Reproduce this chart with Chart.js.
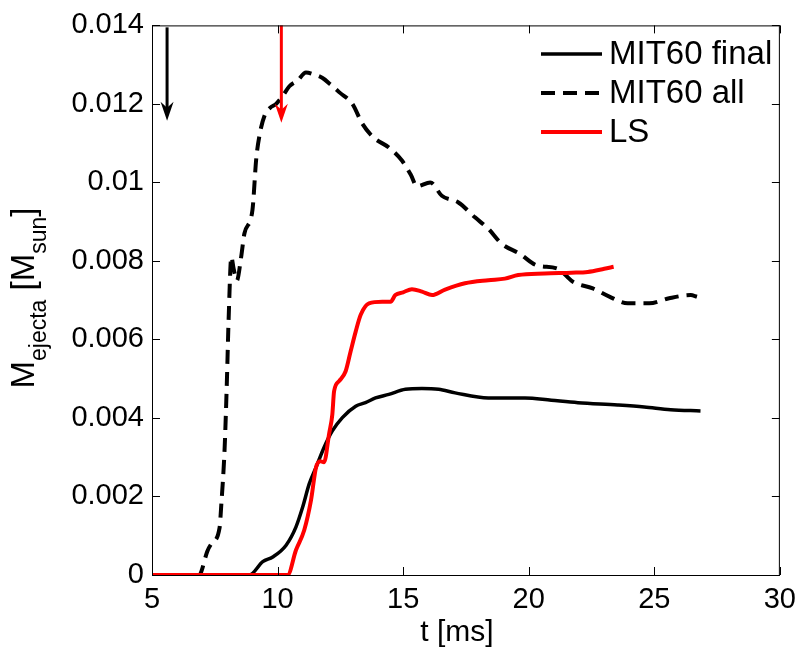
<!DOCTYPE html>
<html>
<head>
<meta charset="utf-8">
<script src="https://cdn.jsdelivr.net/npm/chart.js@4.4.0/dist/chart.umd.min.js"></script>
<style>
  body { margin: 0; background: #fff; }
  canvas { display: block; }
</style>
</head>
<body>
<canvas id="c" width="804" height="650"></canvas>
<script>
// MIT60 all (streckad)
const tAll = [5, 6.9, 6.97, 7.2, 7.37, 7.69, 7.76, 7.89, 7.98, 8.05, 8.16, 8.25, 8.38, 8.55, 8.68, 9.0, 9.15, 9.28, 9.48, 9.7, 9.94, 10.2, 10.47, 10.8, 11.13, 11.45, 11.79, 12.1, 12.45, 12.98, 13.37, 13.83, 14.43, 14.96, 15.3, 15.55, 16.08, 16.54, 17.2, 17.86, 18.39, 18.92, 19.65, 20.31, 21.16, 21.76, 22.55, 23.21, 23.94, 24.8, 25.59, 26.45, 26.7];
const mAll = [0, 0, 0.0001, 0.0006, 0.0008, 0.0012, 0.0018, 0.0032, 0.0049, 0.0065, 0.0081, 0.0078, 0.0075, 0.0081, 0.0087, 0.0093, 0.0106, 0.0112, 0.0117, 0.0119, 0.0120, 0.0122, 0.01245, 0.0126, 0.0128, 0.01275, 0.01266, 0.0125, 0.0123, 0.0120, 0.0115, 0.01114, 0.01089, 0.01055, 0.0102, 0.0099, 0.0100, 0.00966, 0.00949, 0.00911, 0.00882, 0.00844, 0.00818, 0.00789, 0.0078, 0.00747, 0.0073, 0.00709, 0.00692, 0.00692, 0.00705, 0.00713, 0.00709];

// MIT60 final
const tFinal = [5, 8.88, 9.41, 9.81, 10.34, 10.73, 11.0, 11.26, 11.53, 11.85, 12.18, 12.58, 13.11, 13.5, 13.9, 14.43, 15.09, 15.75, 16.41, 17.07, 18.39, 19.85, 20.9, 21.96, 23.54, 24.6, 25.65, 26.84];
const mFinal = [0, 0, 0.00034, 0.00046, 0.00076, 0.00122, 0.00173, 0.00232, 0.00274, 0.00325, 0.00367, 0.00401, 0.0043, 0.00439, 0.00451, 0.0046, 0.00473, 0.00475, 0.00473, 0.00464, 0.00451, 0.00451, 0.00445, 0.00439, 0.00433, 0.00428, 0.00421, 0.00418];

// LS
const tLS = [5, 10.4, 10.73, 11.06, 11.33, 11.53, 11.7, 11.85, 12.05, 12.18, 12.25, 12.45, 12.71, 12.91, 13.11, 13.31, 13.64, 14.17, 14.5, 14.69, 15.0, 15.35, 15.75, 16.15, 16.67, 17.46, 18.39, 19.05, 19.58, 20.64, 21.7, 22.35, 23.01, 23.38];
const mLS = [0, 0, 0.00063, 0.00114, 0.0019, 0.00274, 0.0029, 0.00287, 0.00359, 0.00409, 0.00468, 0.00494, 0.00519, 0.0057, 0.0062, 0.00663, 0.00692, 0.00696, 0.00696, 0.00713, 0.0072, 0.00728, 0.00722, 0.00713, 0.00727, 0.00743, 0.00751, 0.00755, 0.00764, 0.00768, 0.0077, 0.00772, 0.0078, 0.00785];

// Pilar (tid, start, spets)
const arrowT = [5.6, 10.15];
const arrowTop = [0.01395, 0.0140];
const arrowTip = [0.01157, 0.01152];
const arrowColors = ['#000000', '#ff0000'];

const xTicks = [5, 10, 15, 20, 25, 30];
const yTickLabels = ['0', '0.002', '0.004', '0.006', '0.008', '0.01', '0.012', '0.014'];

const FONT = '"Liberation Sans", Arial, Helvetica, sans-serif';

function toPoints(xs, ys) {
    return xs.map((x, i) => ({ x: x, y: ys[i] }));
}

// Ram och inåtvända tickmarkeringar (MATLAB-stil)
const framePlugin = {
    id: 'frame',
    afterDraw(chart) {
        const { ctx, chartArea: a, scales } = chart;
        ctx.save();
        ctx.strokeStyle = '#000';
        ctx.lineWidth = 1;
        ctx.strokeRect(a.left + 0.5, a.top + 0.5, a.right - a.left - 1, a.bottom - a.top);
        const len = 8;
        ctx.beginPath();
        xTicks.forEach(v => {
            const px = Math.round(scales.x.getPixelForValue(v)) + 0.5;
            ctx.moveTo(px, a.bottom); ctx.lineTo(px, a.bottom - len);
            ctx.moveTo(px, a.top); ctx.lineTo(px, a.top + len);
        });
        scales.y.ticks.forEach(t => {
            const py = Math.round(scales.y.getPixelForValue(t.value)) + 0.5;
            ctx.moveTo(a.left, py); ctx.lineTo(a.left + len, py);
            ctx.moveTo(a.right, py); ctx.lineTo(a.right - len, py);
        });
        ctx.stroke();
        ctx.restore();
    }
};

// Pilar
const arrowPlugin = {
    id: 'arrows',
    afterDatasetsDraw(chart) {
        const { ctx, scales } = chart;
        ctx.save();
        arrowT.forEach((t, i) => {
            const x = scales.x.getPixelForValue(t);
            const y0 = scales.y.getPixelForValue(arrowTop[i]);
            const y1 = scales.y.getPixelForValue(arrowTip[i]);
            ctx.strokeStyle = arrowColors[i];
            ctx.fillStyle = arrowColors[i];
            ctx.lineWidth = 3;
            ctx.beginPath();
            ctx.moveTo(x, y0);
            ctx.lineTo(x, y1 - 8);
            ctx.stroke();
            ctx.beginPath();
            ctx.moveTo(x, y1);
            ctx.lineTo(x - 6.5, y1 - 19);
            ctx.lineTo(x, y1 - 13);
            ctx.lineTo(x + 6.5, y1 - 19);
            ctx.closePath();
            ctx.fill();
        });
        ctx.restore();
    }
};

// Legend
const legendPlugin = {
    id: 'customLegend',
    afterDraw(chart) {
        const { ctx } = chart;
        ctx.save();
        ctx.font = '33px ' + FONT;
        ctx.textBaseline = 'middle';
        ctx.fillStyle = '#000';
        chart.data.datasets.forEach((ds, i) => {
            const y = 54 + i * 39;
            ctx.strokeStyle = ds.borderColor;
            ctx.lineWidth = ds.borderWidth;
            ctx.setLineDash(ds.borderDash || []);
            ctx.beginPath();
            ctx.moveTo(541, y);
            ctx.lineTo(602, y);
            ctx.stroke();
            ctx.setLineDash([]);
            ctx.fillText(ds.label, 609, y + 1);
        });
        ctx.restore();
    }
};

// Y-axeltitel med nedsänkta index
const yTitlePlugin = {
    id: 'yTitle',
    afterDraw(chart) {
        const { ctx } = chart;
        const parts = [
            { s: 'M', size: 33, dy: 0 },
            { s: 'ejecta', size: 23, dy: 12 },
            { s: ' [M', size: 33, dy: 0 },
            { s: 'sun', size: 23, dy: 12 },
            { s: ']', size: 33, dy: 0 }
        ];
        ctx.save();
        let total = 0;
        parts.forEach(p => { ctx.font = p.size + 'px ' + FONT; p.w = ctx.measureText(p.s).width; total += p.w; });
        ctx.translate(34, 298);
        ctx.rotate(-Math.PI / 2);
        ctx.fillStyle = '#000';
        ctx.textBaseline = 'alphabetic';
        let x = -total / 2;
        parts.forEach(p => {
            ctx.font = p.size + 'px ' + FONT;
            ctx.fillText(p.s, x, p.dy);
            x += p.w;
        });
        ctx.restore();
    }
};

// X-axeltitel
const xTitlePlugin = {
    id: 'xTitle',
    afterDraw(chart) {
        const { ctx } = chart;
        ctx.save();
        ctx.font = '30px ' + FONT;
        ctx.fillStyle = '#000';
        ctx.textAlign = 'center';
        ctx.textBaseline = 'alphabetic';
        ctx.fillText('t [ms]', 457, 641);
        ctx.restore();
    }
};

new Chart(document.getElementById('c').getContext('2d'), {
    type: 'line',
    data: {
        datasets: [
            {
                label: 'MIT60 final',
                data: toPoints(tFinal, mFinal),
                borderColor: '#000000',
                borderWidth: 3.5,
                order: 2
            },
            {
                label: 'MIT60 all',
                data: toPoints(tAll, mAll),
                borderColor: '#000000',
                borderWidth: 4,
                borderDash: [14, 8],
                order: 3
            },
            {
                label: 'LS',
                data: toPoints(tLS, mLS),
                borderColor: '#ff0000',
                borderWidth: 4,
                order: 1
            }
        ]
    },
    options: {
        responsive: false,
        animation: false,
        events: [],
        elements: {
            point: { radius: 0 },
            line: { cubicInterpolationMode: 'monotone', fill: false }
        },
        layout: { padding: { left: 0, right: 21, top: 22, bottom: 0 } },
        plugins: {
            legend: { display: false },
            tooltip: { enabled: false }
        },
        scales: {
            x: {
                type: 'linear',
                min: 5,
                max: 30,
                grid: { display: false, drawTicks: false },
                border: { display: false },
                ticks: {
                    stepSize: 5,
                    color: '#000',
                    padding: 8,
                    maxRotation: 0,
                    font: { family: FONT, size: 29 }
                },
                afterFit(scale) { scale.height = 75; }
            },
            y: {
                min: 0,
                max: 0.014,
                grid: { display: false, drawTicks: false },
                border: { display: false },
                ticks: {
                    stepSize: 0.002,
                    color: '#000',
                    padding: 8,
                    font: { family: FONT, size: 29 },
                    callback: (v, i) => yTickLabels[i]
                },
                afterFit(scale) { scale.width = 152; }
            }
        }
    },
    plugins: [framePlugin, arrowPlugin, legendPlugin, yTitlePlugin, xTitlePlugin]
});
</script>
</body>
</html>
